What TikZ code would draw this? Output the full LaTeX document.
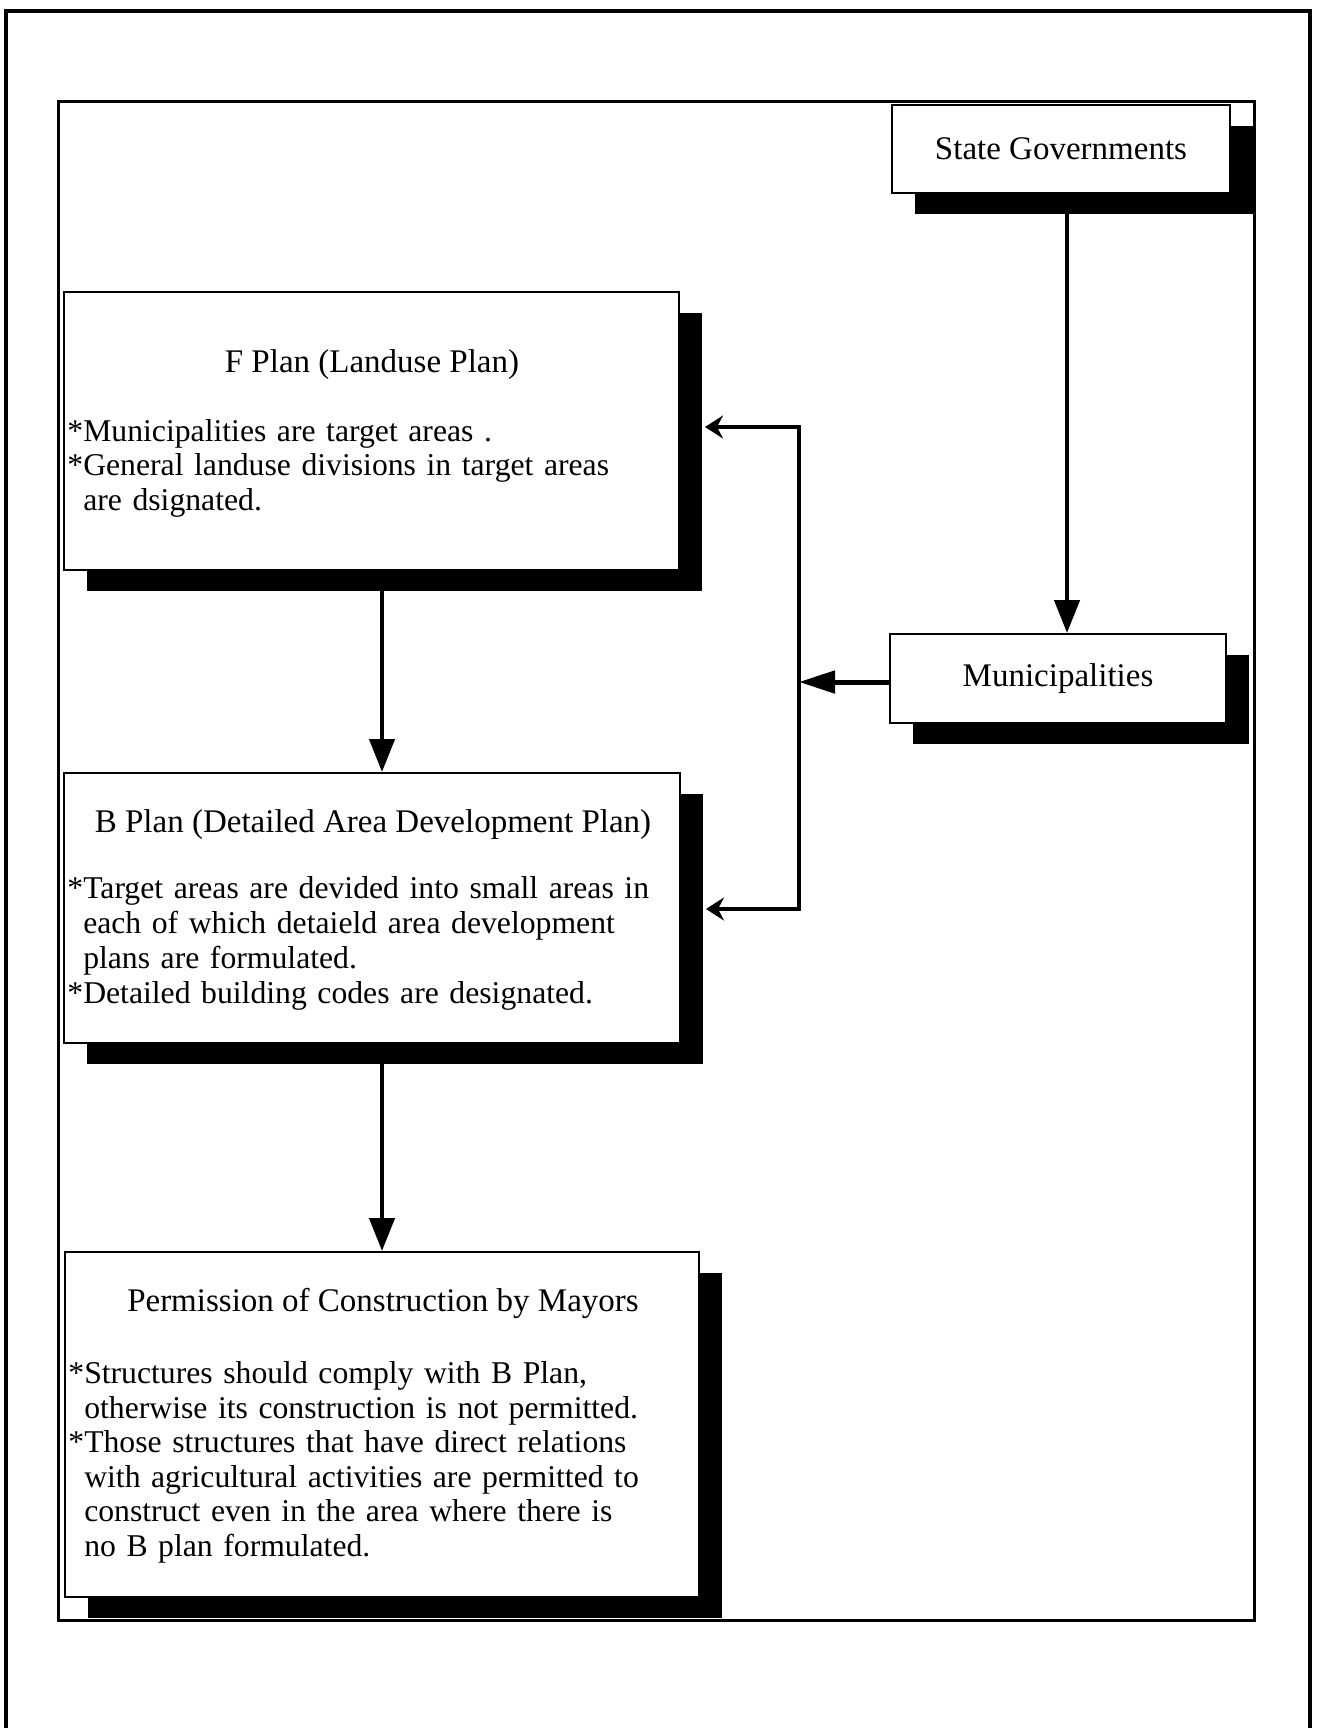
\documentclass[tikz,border=0pt]{standalone}
\usepackage{fontspec}
\setmainfont{Liberation Serif}
\usetikzlibrary{arrows.meta,shadows}
\begin{document}
\begin{tikzpicture}[x=0.5pt,y=-0.5pt,
  txt/.style={font=\fontsize{16.5pt}{17.25pt}\selectfont, inner sep=0pt},
  box/.style={draw=black, line width=1pt, fill=white, inner sep=0pt, txt,
    drop shadow={shadow xshift=11.5pt, shadow yshift=-10.5pt, fill=black, opacity=1}},
  body/.style={inner sep=0pt, font=\fontsize{15.85pt}{17.25pt}\selectfont, text width=330pt, align=left, anchor=base west},
  ttl/.style={txt, anchor=base},
  varrow/.style={line width=2.25pt, -{Triangle[length=16.5pt,width=12.5pt]}},
  hbus/.style={line width=1.75pt, line join=miter,
    {Stealth[length=9pt,width=11.5pt,inset=3pt]}-{Stealth[length=9pt,width=11.5pt,inset=3pt]}},
  marrow/.style={line width=2.5pt, -{Triangle[length=18pt,width=11pt]}},
]
\useasboundingbox (0,0) rectangle (1317,1728);
% frames
\draw[line width=2pt] (6,1728) -- (6,11) -- (1310,11) -- (1310,1728);
\draw[line width=1.5pt] (58,102) rectangle (1254,1620);

% boxes
\node[box, minimum width=169pt, minimum height=44pt] (sg) at (1061,149) {State Governments};
\node[box, minimum width=168pt, minimum height=44.5pt] (muni) at (1058,678.5) {Municipalities};
\node[box, minimum width=307.5pt, minimum height=139pt] (f) at (371.5,431) {};
\node[box, minimum width=308pt, minimum height=135pt] (b) at (372,908) {};
\node[box, minimum width=317pt, minimum height=172.5pt] (p) at (382,1424.5) {};

% texts
\node[ttl] (ftitle) at (372,372) {F Plan (Landuse Plan)};
\node[body] (fbody) at (67,441) {*Municipalities are target areas .\\{}*General landuse divisions in target areas\\ \phantom{*}are dsignated.};

\node[ttl] (btitle) at (373,832) {B Plan (Detailed Area Development Plan)};
\node[body, font=\fontsize{15.85pt}{17.6pt}\selectfont] (bbody) at (67,898) {*Target areas are devided into small areas in\\ \phantom{*}each of which detaield area development\\ \phantom{*}plans are formulated.\\{}*Detailed building codes are designated.};

\node[ttl] (ptitle) at (383,1311) {Permission of Construction by Mayors};
\node[body] (pbody) at (68,1383.5) {*Structures should comply with B Plan,\\ \phantom{*}otherwise its construction is not permitted.\\{}*Those structures that have direct relations\\ \phantom{*}with agricultural activities are permitted to\\ \phantom{*}construct even in the area where there is\\ \phantom{*}no B plan formulated.};

% connectors
\draw[varrow] ([xshift=3pt]sg.south) -- ([xshift=3pt]sg.south |- muni.north);
\draw[varrow] (p.north |- f.south) -- (p.north |- b.north);
\draw[varrow] (p.north |- b.south) -- (p.north);
\coordinate (bustop) at (799,427);
\coordinate (busbot) at (799,909);
\draw[hbus] ([xshift=12.5pt]b.east |- busbot) -- (busbot) -- (bustop) -- ([xshift=12.5pt]f.east |- bustop);
\draw[marrow] ([yshift=-1.75pt]muni.west) -- ([yshift=-1.75pt]muni.west -| bustop);
\end{tikzpicture}
\end{document}
